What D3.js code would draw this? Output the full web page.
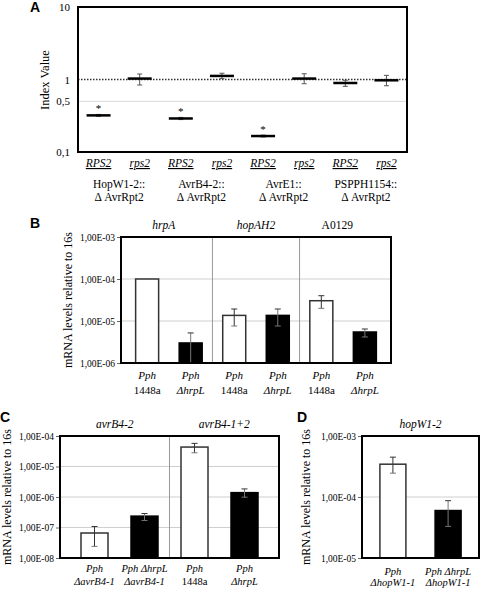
<!DOCTYPE html>
<html><head><meta charset="utf-8">
<script src="https://cdn.jsdelivr.net/npm/d3@7"></script>
<style>
body{margin:0;background:#fff}
svg{display:block;background:#fff}
</style>
</head><body>
<svg id="c" width="480" height="589" style="font-family:'Liberation Serif','DejaVu Serif','Times New Roman',serif"></svg>
<script>
// ---------- Panel A data ----------
const aGroups = ["HopW1-2::", "AvrB4-2::", "AvrE1::", "PSPPH1154::"];
const aGenotypes = ["RPS2", "rps2"];
const aValues = [0.32, 1.03, 0.29, 1.12, 0.166, 1.03, 0.895, 0.975];
const aErrLow = [0.31, 0.84, 0.28, 1.03, 0.161, 0.875, 0.805, 0.82];
const aErrHigh = [0.33, 1.19, 0.30, 1.22, 0.171, 1.2, 0.975, 1.14];
const aSignificant = [true, false, true, false, true, false, false, false];
const aTicks = [0.1, 0.5, 1, 10];
const aTickLabels = ["0,1", "0,5", "1", "10"];

// ---------- Panel B data ----------
const bGenes = ["hrpA", "hopAH2", "A0129"];
const bLine1 = ["Pph", "Pph", "Pph", "Pph", "Pph", "Pph"];
const bLine2 = ["1448a", "ΔhrpL", "1448a", "ΔhrpL", "1448a", "ΔhrpL"];
const bMutant = [false, true, false, true, false, true];
const bValues = [1.0e-4, 3.0e-6, 1.36e-5, 1.36e-5, 3.04e-5, 5.47e-6];
const bErrLow = [null, 0.8e-6, 7.6e-6, 7.6e-6, 2.0e-5, 4.16e-6];
const bErrHigh = [null, 5.2e-6, 1.93e-5, 1.93e-5, 4.0e-5, 6.45e-6];
const bTicks = [1e-6, 1e-5, 1e-4, 1e-3];
const bTickLabels = ["1,00E-06", "1,00E-05", "1,00E-04", "1,00E-03"];

// ---------- Panel C data ----------
const cGenes = ["avrB4-2", "avrB4-1+2"];
const cLine1 = ["Pph", "Pph ΔhrpL", "Pph", "Pph"];
const cLine2 = ["ΔavrB4-1", "ΔavrB4-1", "1448a", "ΔhrpL"];
const cMutant = [false, true, false, true];
const cValues = [6.6e-8, 2.36e-7, 4.34e-5, 1.39e-6];
const cErrLow = [2.4e-8, 1.7e-7, 2.82e-5, 9.85e-7];
const cErrHigh = [1.08e-7, 2.87e-7, 5.73e-5, 1.84e-6];
const cTicks = [1e-8, 1e-7, 1e-6, 1e-5, 1e-4];
const cTickLabels = ["1,00E-08", "1,00E-07", "1,00E-06", "1,00E-05", "1,00E-04"];

// ---------- Panel D data ----------
const dGenes = ["hopW1-2"];
const dLine1 = ["Pph", "Pph ΔhrpL"];
const dLine2 = ["ΔhopW1-1", "ΔhopW1-1"];
const dMutant = [false, true];
const dValues = [3.45e-4, 6.0e-5];
const dErrLow = [2.46e-4, 3.3e-5];
const dErrHigh = [4.5e-4, 8.7e-5];
const dTicks = [1e-5, 1e-4, 1e-3];
const dTickLabels = ["1,00E-05", "1,00E-04", "1,00E-03"];

const yTitle = "mRNA levels relative to 16s";
const SERIF = "'Liberation Serif','DejaVu Serif','Times New Roman',serif";
const SANS = "'Liberation Sans',Arial,sans-serif";

const svg = d3.select("#c");

function txt(sel, size, italic) {
  return sel.style("font-family", SERIF).style("font-size", size + "px")
    .style("font-style", italic ? "italic" : "normal").attr("fill", "#000");
}
function label(t, x, y) {
  svg.append("text").attr("x", x).attr("y", y).style("font-family", SANS)
    .style("font-weight", "bold").style("font-size", "14px").text(t);
}

// ================= Panel A =================
(function () {
  const L = 78, R = 407, T = 7, B = 152;
  const y = d3.scaleLog().domain([0.1, 10]).range([B, T]);
  const x = d3.scaleBand().domain(d3.range(aValues.length)).range([L, R]);
  const g = svg.append("g");
  g.append("line").attr("x1", L).attr("x2", R).attr("y1", y(0.5)).attr("y2", y(0.5))
    .attr("stroke", "#d8d8d8").attr("stroke-width", 1);
  g.append("line").attr("x1", L).attr("x2", R).attr("y1", y(1)).attr("y2", y(1))
    .attr("stroke", "#333").attr("stroke-width", 1.5).attr("stroke-dasharray", "1.5,1.5");
  const ax = g.append("g").attr("transform", `translate(${L},0)`)
    .call(d3.axisLeft(y).tickValues(aTicks).tickFormat((d, i) => aTickLabels[i]).tickSize(0).tickPadding(8));
  ax.select(".domain").remove();
  txt(ax.selectAll("text"), 11, false);
  aValues.forEach((v, i) => {
    const cx = x(i) + x.bandwidth() / 2;
    const eg = g.append("g").attr("stroke", "#555").attr("stroke-width", 1);
    eg.append("line").attr("x1", cx).attr("x2", cx).attr("y1", y(aErrHigh[i])).attr("y2", y(aErrLow[i]));
    eg.append("line").attr("x1", cx - 2.5).attr("x2", cx + 2.5).attr("y1", y(aErrHigh[i])).attr("y2", y(aErrHigh[i]));
    eg.append("line").attr("x1", cx - 2.5).attr("x2", cx + 2.5).attr("y1", y(aErrLow[i])).attr("y2", y(aErrLow[i]));
    g.append("line").attr("x1", cx - 12).attr("x2", cx + 12).attr("y1", y(v)).attr("y2", y(v))
      .attr("stroke", "#000").attr("stroke-width", 2.5);
    if (aSignificant[i]) {
      txt(g.append("text").attr("x", cx).attr("y", y(v) - 3).attr("text-anchor", "middle"), 11, false).text("*");
    }
    txt(g.append("text").attr("x", cx).attr("y", 167).attr("text-anchor", "middle"), 11.5, true)
      .style("text-decoration", "underline").text(aGenotypes[i % 2]);
  });
  aGroups.forEach((name, k) => {
    const cx = x(2 * k) + x.bandwidth();
    txt(g.append("text").attr("x", cx).attr("y", 188).attr("text-anchor", "middle"), 11.5, false).text(name);
    txt(g.append("text").attr("x", cx).attr("y", 201).attr("text-anchor", "middle"), 11.5, false).text("Δ AvrRpt2");
  });
  g.append("rect").attr("x", L).attr("y", T).attr("width", R - L).attr("height", B - T)
    .attr("fill", "none").attr("stroke", "#000").attr("stroke-width", 2);
  txt(g.append("text").attr("transform", `translate(49,80) rotate(-90)`).attr("text-anchor", "middle"), 12.5, false)
    .text("Index Value");
  label("A", 30, 12);
})();

// ================= Bar panels =================
function barPanel(c) {
  const g = svg.append("g");
  const y = d3.scaleLog().domain(c.domain).range([c.B, c.T]);
  const x = d3.scalePoint().domain(d3.range(c.values.length)).range([c.L, c.R]).padding(c.pad);
  c.ticks.forEach(t => {
    g.append("line").attr("x1", c.L).attr("x2", c.R).attr("y1", y(t)).attr("y2", y(t))
      .attr("stroke", "#cfcfcf").attr("stroke-width", 1);
  });
  const nG = c.genes.length;
  const per = c.values.length / nG;
  const bounds = [c.L];
  for (let k = 1; k < nG; k++) {
    const sx = (x(k * per - 1) + x(k * per)) / 2;
    bounds.push(sx);
    g.append("line").attr("x1", sx).attr("x2", sx).attr("y1", c.T).attr("y2", c.B)
      .attr("stroke", "#999").attr("stroke-width", 1);
  }
  bounds.push(c.R);
  c.genes.forEach((gn, k) => {
    const cx = (bounds[k] + bounds[k + 1]) / 2 + (c.gOff ? c.gOff[k] : 0);
    txt(g.append("text").attr("x", cx).attr("y", c.T - 8).attr("text-anchor", "middle"), 11.5, /^[a-z]/.test(gn)).text(gn);
  });
  c.values.forEach((v, i) => {
    const cx = x(i);
    g.append("rect").attr("x", cx - c.bw / 2).attr("y", y(v)).attr("width", c.bw).attr("height", c.B - y(v))
      .attr("fill", c.mutant[i] ? "#000" : "#fff").attr("stroke", c.mutant[i] ? "#000" : "#333").attr("stroke-width", 1.5);
    if (c.lo[i] != null) {
      const y1 = y(c.hi[i]);
      const loClip = c.lo[i] < c.domain[0];
      const y2 = loClip ? c.B : y(c.lo[i]);
      const eg = g.append("g").attr("stroke", c.mutant[i] ? "#777" : "#333").attr("stroke-width", 1);
      eg.append("line").attr("x1", cx).attr("x2", cx).attr("y1", y1).attr("y2", y2);
      eg.append("line").attr("x1", cx - 3).attr("x2", cx + 3).attr("y1", y1).attr("y2", y1).attr("stroke", "#333");
      if (!loClip) eg.append("line").attr("x1", cx - 3).attr("x2", cx + 3).attr("y1", y2).attr("y2", y2).attr("stroke", "#777");
    }
    txt(g.append("text").attr("x", cx).attr("y", c.B + c.o1).attr("text-anchor", "middle"), c.fs, true).text(c.line1[i]);
    txt(g.append("text").attr("x", cx).attr("y", c.B + c.o2).attr("text-anchor", "middle"), c.fs, !/^\d/.test(c.line2[i])).text(c.line2[i]);
  });
  const ax = g.append("g").attr("transform", `translate(${c.L},0)`)
    .call(d3.axisLeft(y).tickValues(c.ticks).tickFormat((d, i) => c.tickLabels[i]).tickSizeInner(4).tickSizeOuter(0).tickPadding(2));
  ax.select(".domain").remove();
  ax.selectAll("line").attr("stroke", "#666");
  txt(ax.selectAll("text"), 9.5, false);
  g.append("rect").attr("x", c.L).attr("y", c.T).attr("width", c.R - c.L).attr("height", c.B - c.T)
    .attr("fill", "none").attr("stroke", "#000").attr("stroke-width", 2);
  txt(g.append("text").attr("transform", `translate(${c.tx},${(c.T + c.B) / 2}) rotate(-90)`).attr("text-anchor", "middle"), 12, false)
    .text(yTitle);
}

barPanel({L: 121, R: 391, T: 237, B: 363, domain: [1e-6, 1e-3], pad: 0.6, bw: 23, fs: 11,
  values: bValues, lo: bErrLow, hi: bErrHigh, mutant: bMutant, line1: bLine1, line2: bLine2,
  genes: bGenes, gOff: [-3, 0, -8], ticks: bTicks, tickLabels: bTickLabels, o1: 16, o2: 31, tx: 72});
label("B", 30, 228);

barPanel({L: 60, R: 279, T: 436, B: 558, domain: [1e-8, 1e-4], pad: 0.69, bw: 27, fs: 10.5,
  values: cValues, lo: cErrLow, hi: cErrHigh, mutant: cMutant, line1: cLine1, line2: cLine2,
  genes: cGenes, ticks: cTicks, tickLabels: cTickLabels, o1: 14, o2: 27, tx: 11});
label("C", 0, 422);

barPanel({L: 362, R: 479, T: 436, B: 558, domain: [1e-5, 1e-3], pad: 0.56, bw: 26, fs: 10.5,
  values: dValues, lo: dErrLow, hi: dErrHigh, mutant: dMutant, line1: dLine1, line2: dLine2,
  genes: dGenes, ticks: dTicks, tickLabels: dTickLabels, o1: 17, o2: 28, tx: 310});
label("D", 297, 422);
</script>
</body></html>
